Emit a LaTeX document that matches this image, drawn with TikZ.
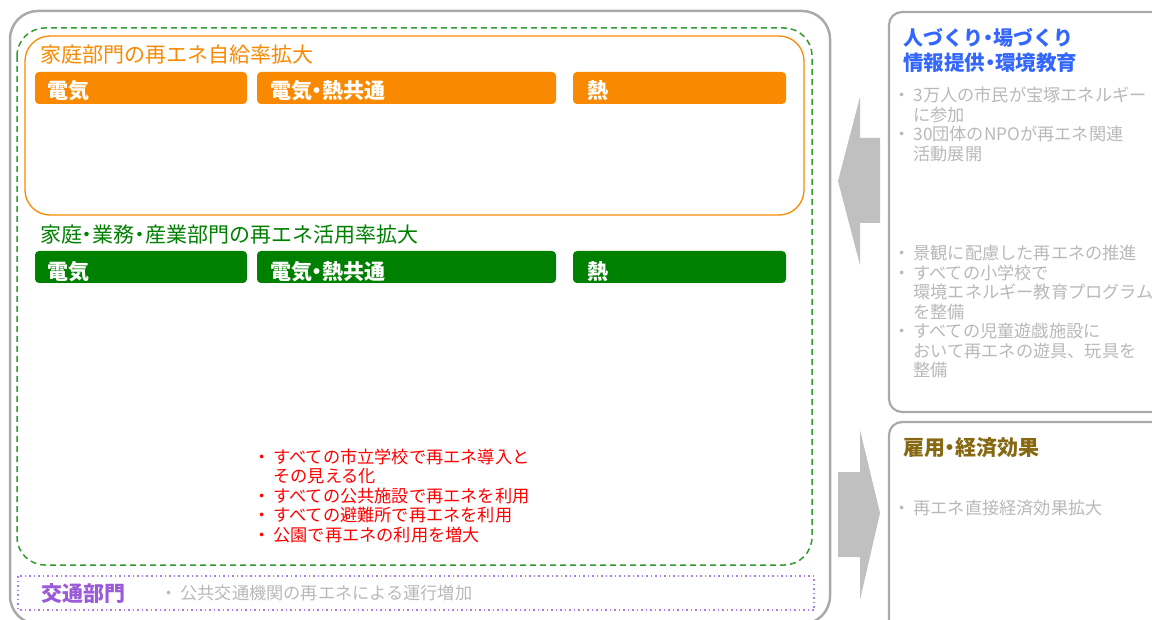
\documentclass[tikz,border=0pt]{standalone}
\usepackage{fontspec}
\setmainfont{Noto Sans CJK JP}
\usetikzlibrary{positioning}

\definecolor{eneOrange}{RGB}{249,137,0}
\definecolor{eneGreen}{RGB}{0,128,0}
\definecolor{dashGreen}{RGB}{50,155,50}
\definecolor{panelGray}{RGB}{170,170,170}
\definecolor{arrowGray}{RGB}{192,192,192}
\definecolor{noteGray}{RGB}{185,185,185}
\definecolor{eduBlue}{RGB}{51,102,255}
\definecolor{econOlive}{RGB}{135,105,20}
\definecolor{trafficPurple}{RGB}{155,90,215}
\definecolor{dotPurple}{RGB}{175,125,235}

\newcommand{\nakaten}{\makebox[.5em]{・}}
\newcommand{\bul}{\makebox[1.15em][l]{・}}
\newcommand{\cont}{\hspace*{1.15em}}

\begin{document}
\begin{tikzpicture}[x=1pt,y=-1pt,
    bar/.style={rounded corners=4pt,minimum height=32pt,inner sep=0pt},
    barlabel/.style={anchor=base west,inner sep=0pt,text=white,font=\fontsize{21}{25}\selectfont\bfseries},
    head/.style={anchor=base west,inner sep=0pt,font=\fontsize{21}{25}\selectfont},
    boldhead/.style={head,font=\fontsize{21}{25}\selectfont\bfseries},
    item/.style={anchor=base west,inner sep=0pt,font=\fontsize{17.2}{20}\selectfont},
    panel/.style={draw=panelGray,line width=2.2pt,rounded corners=13pt}]
    \useasboundingbox (0,0) rectangle (1152,620);
    \fill[white] (0,0) rectangle (1152,620);

    % frames on the left
    \draw[draw=panelGray,line width=2.5pt,rounded corners=28pt] (10,11) rectangle (830,624);
    \draw[draw=dashGreen,line width=1.5pt,dash pattern=on 6pt off 4pt,rounded corners=28pt] (17,28) rectangle (812,565);
    \draw[draw=eneOrange,line width=1.3pt,rounded corners=25pt] (25,36) rectangle (804,215);
    \draw[draw=dotPurple,line width=1.5pt,dash pattern=on 1.5pt off 3pt] (18,576) rectangle (814,610);

    % household self-supply
    \node[head,text=eneOrange] (selfTitle) at (40,63) {家庭部門の再エネ自給率拡大};
    \node[bar,fill=eneOrange,minimum width=212pt] (oElec) at (141,88) {};
    \node[bar,fill=eneOrange,minimum width=299pt] (oBoth) at (406.5,88) {};
    \node[bar,fill=eneOrange,minimum width=213pt] (oHeat) at (679.5,88) {};
    \node[barlabel] (oElecT) at ([xshift=12pt,yshift=5.5pt]oElec.south west) {電気};
    \node[barlabel] (oBothT) at ([xshift=13pt,yshift=5.5pt]oBoth.south west) {電気\nakaten 熱共通};
    \node[barlabel] (oHeatT) at ([xshift=14pt,yshift=5.5pt]oHeat.south west) {熱};

    % all sectors
    \node[head,text=eneGreen] (useTitle) at (40,243) {家庭\nakaten 業務\nakaten 産業部門の再エネ活用率拡大};
    \node[bar,fill=eneGreen,minimum width=212pt] (gElec) at (141,267) {};
    \node[bar,fill=eneGreen,minimum width=299pt] (gBoth) at (406.5,267) {};
    \node[bar,fill=eneGreen,minimum width=213pt] (gHeat) at (679.5,267) {};
    \node[barlabel] (gElecT) at ([xshift=12pt,yshift=3.5pt]gElec.south west) {電気};
    \node[barlabel] (gBothT) at ([xshift=13pt,yshift=3.5pt]gBoth.south west) {電気\nakaten 熱共通};
    \node[barlabel] (gHeatT) at ([xshift=14pt,yshift=3.5pt]gHeat.south west) {熱};

    \foreach \txt [count=\i] in {{\bul すべての市立学校で再エネ導入と},{\cont その見える化},
        {\bul すべての公共施設で再エネを利用},{\bul すべての避難所で再エネを利用},
        {\bul 公園で再エネの利用を増大}}
        \node[item,text=red] (pub-\i) at (253.5,{463+19.5*(\i-1)}) {\txt};

    % traffic
    \node[boldhead,text=trafficPurple] (traffic) at (41,601) {交通部門};
    \node[item,text=noteGray] (trafficNote) at (160.5,599) {\bul 公共交通機関の再エネによる運行増加};

    % arrows
    \fill[arrowGray] (838,181) -- (860,97) -- (860,138) -- (880,138) -- (880,223) -- (860,223) -- (860,265) -- cycle;
    \fill[arrowGray] (880,513) -- (860,430) -- (860,472) -- (838,472) -- (838,557) -- (860,557) -- (860,600) -- cycle;

    % right panels
    \draw[panel] (889,12) rectangle (1175,412);
    \draw[panel] (889,422) rectangle (1175,645);

    \node[boldhead,text=eduBlue,font=\fontsize{20}{24}\selectfont\bfseries] (eduA) at (903,45.5) {人づくり\nakaten 場づくり};
    \node[boldhead,text=eduBlue,font=\fontsize{20.5}{24}\selectfont\bfseries] (eduB) at (903,71) {情報提供\nakaten 環境教育};
    \foreach \txt [count=\i] in {{\bul 3万人の市民が宝塚エネルギー},{\cont に参加},
        {\bul 30団体のNPOが再エネ関連},{\cont 活動展開}}
        \node[item,text=noteGray] (citizen-\i) at (893.5,{102+19.5*(\i-1)}) {\txt};
    \foreach \txt [count=\i] in {{\bul 景観に配慮した再エネの推進},{\bul すべての小学校で},
        {\cont 環境エネルギー教育プログラム},{\cont を整備},{\bul すべての児童遊戯施設に},
        {\cont おいて再エネの遊具、玩具を},{\cont 整備}}
        \node[item,text=noteGray] (school-\i) at (893.5,{260+19.5*(\i-1)}) {\txt};

    \node[boldhead,text=econOlive] (econ) at (903,455) {雇用\nakaten 経済効果};
    \node[item,text=noteGray] (econNote) at (893.5,514) {\bul 再エネ直接経済効果拡大};
\end{tikzpicture}
\end{document}
